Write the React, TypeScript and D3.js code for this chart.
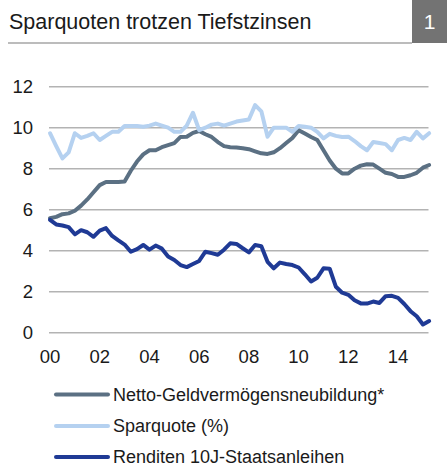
import React from "react";
import * as d3 from "d3";

const title = "Sparquoten trotzen Tiefstzinsen";
const badge = "1";
const yTicks = [0, 2, 4, 6, 8, 10, 12];
const xTickYears = [2000, 2002, 2004, 2006, 2008, 2010, 2012, 2014];
const xTickLabels = ["00", "02", "04", "06", "08", "10", "12", "14"];

// quarterly values, 2000Q1 .. 2015Q2
const netto = [
  5.58, 5.65, 5.78, 5.82, 5.95, 6.2, 6.5, 6.85, 7.2, 7.35, 7.35, 7.35, 7.38, 7.9, 8.35, 8.7,
  8.9, 8.9, 9.05, 9.15, 9.25, 9.55, 9.56, 9.75, 9.84, 9.68, 9.55, 9.3, 9.1, 9.05, 9.03, 9.0,
  8.95, 8.85, 8.75, 8.72, 8.8, 9.0, 9.25, 9.5, 9.88, 9.72, 9.55, 9.4, 8.9, 8.4, 8.0, 7.77,
  7.77, 8.0, 8.15, 8.22, 8.2, 8.0, 7.8, 7.74, 7.6, 7.6, 7.68, 7.8, 8.05, 8.18,
];
const sparquote = [
  9.73, 9.1, 8.5, 8.8, 9.73, 9.5, 9.6, 9.73, 9.4, 9.6, 9.8, 9.8, 10.08, 10.08, 10.08, 10.05,
  10.1, 10.2, 10.1, 10.0, 9.8, 9.8, 10.1, 10.73, 9.88, 10.0, 10.15, 10.2, 10.1, 10.2, 10.3, 10.35,
  10.4, 11.1, 10.8, 9.56, 10.0, 10.0, 10.0, 9.8, 10.08, 10.05, 10.0, 9.8, 9.48, 9.7, 9.6, 9.55,
  9.56, 9.35, 9.1, 8.9, 9.3, 9.25, 9.2, 8.9, 9.4, 9.5, 9.4, 9.8, 9.48, 9.73,
];
const renditen = [
  5.5, 5.28, 5.23, 5.15, 4.8, 5.0, 4.9, 4.68, 4.98, 5.1, 4.72, 4.5, 4.3, 3.95, 4.08, 4.28,
  4.05, 4.25, 4.1, 3.72, 3.55, 3.3, 3.2, 3.35, 3.5, 3.95, 3.88, 3.8, 4.05, 4.36, 4.33, 4.12,
  3.92, 4.28, 4.22, 3.46, 3.14, 3.42, 3.35, 3.3, 3.18, 2.85, 2.5, 2.68, 3.14, 3.12, 2.24, 1.95,
  1.85, 1.58, 1.43, 1.42, 1.52, 1.45, 1.78, 1.8, 1.7, 1.4, 1.05, 0.8, 0.4, 0.57,
];

const seriesNames = [
  "Netto-Geldvermögensneubildung*",
  "Sparquote (%)",
  "Renditen 10J-Staatsanleihen",
];
const seriesColors = ["#5b7083", "#b5d1f0", "#1f3a95"];

export default function App() {
  const W = 447;
  const H = 466;
  const font = "Liberation Sans, Arial, sans-serif";
  const x = d3.scaleLinear().domain([2000, 2016]).range([50, 447.8]);
  const y = d3.scaleLinear().domain([0, 12]).range([332.7, 86.7]);
  const xq = (i: number) => x(2000 + i * 0.25);
  const line = d3
    .line<number>()
    .x((_, i) => xq(i))
    .y((d) => y(d))
    .curve(d3.curveLinear);
  const data = [netto, sparquote, renditen];
  const legendY = [394.5, 426, 457];
  return (
    <svg
      width={W}
      height={H}
      style={{ position: "absolute", left: 0, top: 0, background: "#fff" }}
      fontFamily={font}
    >
      <text x={9} y={29} fontSize={21.5} fill="#1a1a1a">
        {title}
      </text>
      <rect x={412} y={0} width={35} height={43} fill="#737373" />
      <text x={429.5} y={29} fontSize={21} fill="#fff" textAnchor="middle">
        {badge}
      </text>
      <line x1={8} x2={412} y1={43} y2={43} stroke="#a6a6a6" strokeWidth={1.5} />
      {yTicks.map((t) => (
        <g key={t}>
          <line x1={49} x2={428.5} y1={y(t)} y2={y(t)} stroke="#b3b3b3" strokeWidth={1.5} />
          <text x={33} y={y(t)} dy="0.36em" fontSize={18.5} textAnchor="end" fill="#1a1a1a">
            {t}
          </text>
        </g>
      ))}
      {xTickYears.map((yr, i) => (
        <text key={yr} x={x(yr)} y={363} fontSize={18.5} textAnchor="middle" fill="#1a1a1a">
          {xTickLabels[i]}
        </text>
      ))}
      {data.map((d, k) => (
        <path
          key={k}
          d={line(d) || ""}
          fill="none"
          stroke={seriesColors[k]}
          strokeWidth={4}
          strokeLinejoin="round"
          strokeLinecap="round"
        />
      ))}
      {seriesNames.map((n, k) => (
        <g key={n}>
          <line
            x1={56}
            x2={108}
            y1={legendY[k]}
            y2={legendY[k]}
            stroke={seriesColors[k]}
            strokeWidth={4}
            strokeLinecap="round"
          />
          <text x={113} y={legendY[k]} dy="0.35em" fontSize={18} fill="#1a1a1a">
            {n}
          </text>
        </g>
      ))}
    </svg>
  );
}
